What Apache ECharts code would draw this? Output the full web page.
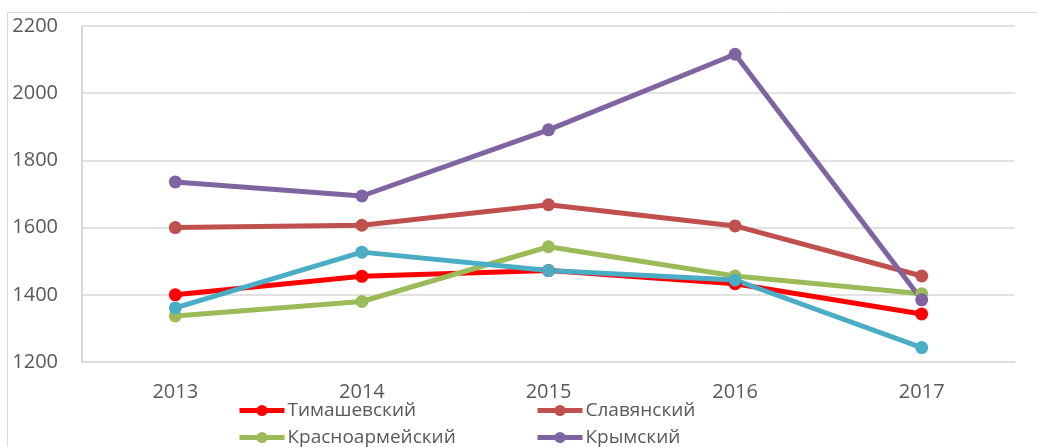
<!DOCTYPE html>
<html><head><meta charset="utf-8">
<script src="https://cdn.jsdelivr.net/npm/echarts@6/dist/echarts.min.js"></script>
<style>html,body{margin:0;padding:0;background:#fff}#c{width:1037px;height:447px}</style>
</head><body><div id="c"></div>
<script>
const years = ['2013','2014','2015','2016','2017'];
const timashevsky = [1400, 1455, 1472, 1433, 1343];
const slavyansky = [1600, 1607, 1668, 1605, 1456];
const krasnoarmeysky = [1337, 1380, 1543, 1456, 1403];
const krymsky = [1736, 1694, 1891, 2116, 1385];
const series5 = [1361, 1527, 1472, 1444, 1243];
const yTicks = [1200, 1400, 1600, 1800, 2000, 2200];

const names = ['Тимашевский','Славянский','Красноармейский','Крымский','Ряд 5'];
const colors = ['#ff0000','#c0504d','#9bbb59','#8064a2','#4bacc6'];
const datas = [timashevsky, slavyansky, krasnoarmeysky, krymsky, series5];
const font = '"Open Sans", "Liberation Sans", sans-serif';

const chart = echarts.init(document.getElementById('c'));
const legendBase = {padding:0, itemWidth: 45, itemHeight: 14, itemGap:0,
  lineStyle:{width:5},
  textStyle:{color:'#595959', fontSize:19, fontFamily:font, padding:[0,0,0,-2]}};
chart.setOption({
  animation:false,
  graphic:[{type:'rect', shape:{x:7.5,y:12.5,width:1200,height:600}, style:{fill:'none', stroke:'#d9d9d9', lineWidth:1}}],
  grid:{left:82, right:22, top:26, bottom:85},
  legend:[
    Object.assign({data:[names[0]], left:237, top:401}, legendBase),
    Object.assign({data:[names[1]], left:535, top:401}, legendBase),
    Object.assign({data:[names[2]], left:237, top:428}, legendBase),
    Object.assign({data:[names[3]], left:535, top:428}, legendBase)
  ],
  xAxis:{type:'category', data:years, boundaryGap:true,
    axisLine:{lineStyle:{color:'#d9d9d9', width:1.5}}, axisTick:{show:false},
    axisLabel:{color:'#595959', fontSize:20, fontFamily:font, margin:20}},
  yAxis:{type:'value', min:yTicks[0], max:yTicks[yTicks.length-1], interval:200,
    axisLine:{show:true, lineStyle:{color:'#c9d8ec', width:2}},
    splitLine:{lineStyle:{color:'#d9d9d9', width:1.5}},
    axisLabel:{color:'#595959', fontSize:20, fontFamily:font, margin:24, formatter:v=>String(v)}},
  series: names.map((n,i)=>({name:n, type:'line', data:datas[i], symbol:'circle', symbolSize:13,
    lineStyle:{width:5, color:colors[i]}, itemStyle:{color:colors[i]}}))
});
</script></body></html>
